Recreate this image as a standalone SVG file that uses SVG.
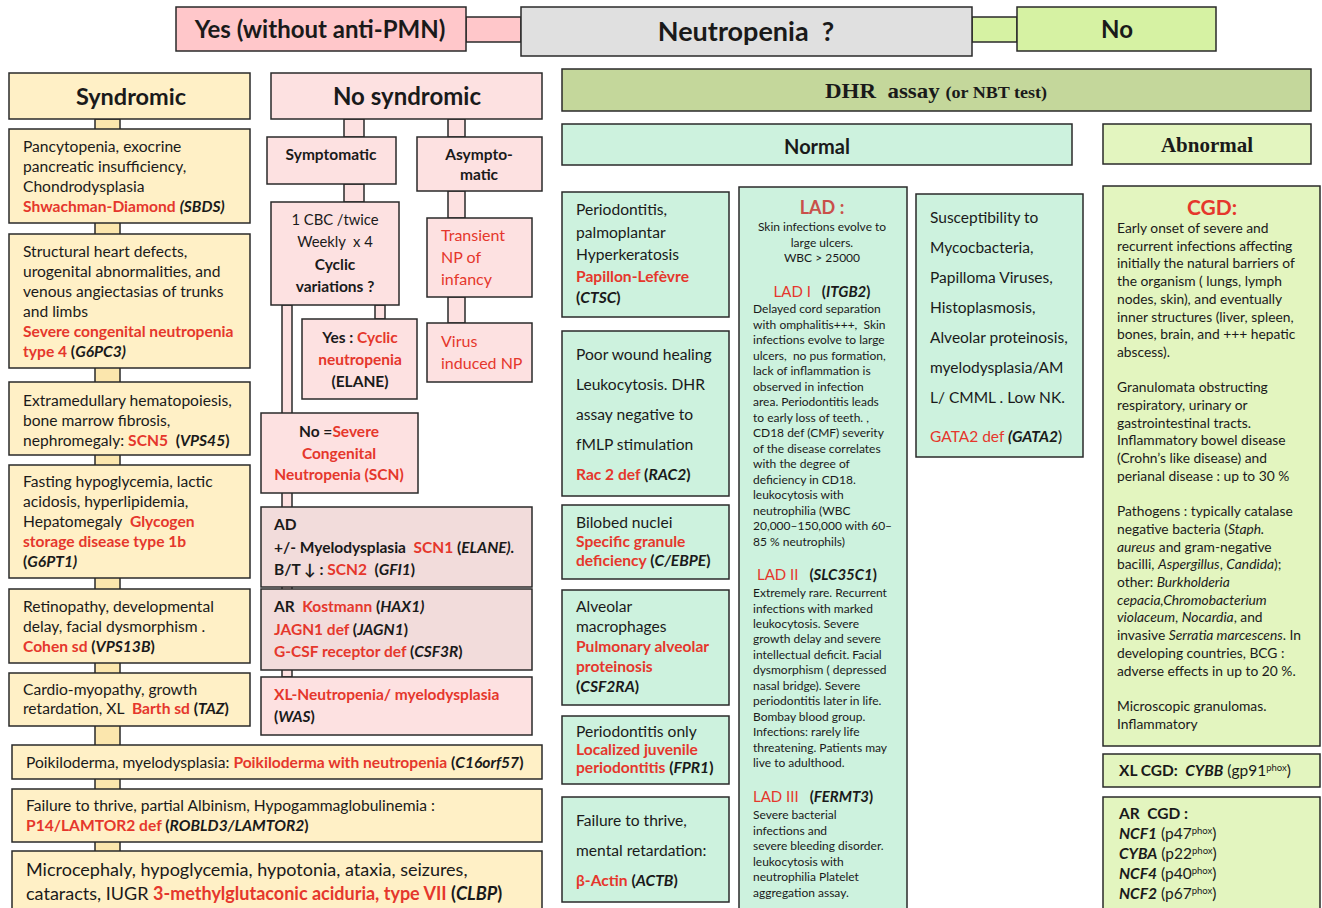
<svg xmlns="http://www.w3.org/2000/svg" width="1322" height="908" viewBox="0 0 1322 908" xml:space="preserve">
<defs>
<style>
.bx{stroke:#2a2a2a;stroke-width:1.5}
.y{fill:#fff0c6}
.ys{fill:#fbe6ad}
.p{fill:#fde1e1}
.pd{fill:#f2dcdb}
.pk{fill:#ffc7ca}
.gr{fill:#e0e0e0}
.no{fill:#d6f2a3}
.g{fill:#cdf2de}
.lg{fill:#e3f5bf}
.dhr{fill:#c4d79b}
text{font-family:Lato,"Liberation Sans",sans-serif;fill:#1a1a1a;font-size:15.6px;white-space:pre}
.sr{font-family:"Liberation Serif",serif;font-weight:bold}
.r{fill:#e5372c}
.b{font-weight:bold}
.i{font-style:italic}
.bi{font-weight:bold;font-style:italic}
.c{text-anchor:middle}
.h22{font-size:24px;font-weight:bold}
.f14{font-size:15.5px}
.f145{font-size:14.8px}
.f15{font-size:15px}
.f17{font-size:18px}
.f11{font-size:12px}
.f12{font-size:13.8px}
.sup{font-size:9.5px}
</style>
</defs>
<rect width="1322" height="908" fill="#ffffff"/>
<g id="connectors">
<rect class="bx pk" x="466" y="17" width="55" height="25"/>
<rect class="bx no" x="972" y="17" width="45" height="25"/>
<rect class="bx ys" x="95" y="119" width="25" height="733"/>
<rect class="bx p" x="344" y="119" width="20" height="18"/>
<rect class="bx p" x="448" y="119" width="17" height="18"/>
<rect class="bx p" x="344" y="184" width="20" height="18"/>
<rect class="bx p" x="282" y="305" width="10" height="372"/>
<rect class="bx p" x="375" y="305" width="10" height="14"/>
<rect class="bx p" x="448" y="191" width="17" height="27"/>
<rect class="bx p" x="448" y="297" width="17" height="26"/>
</g>
<g id="yes"><rect class="bx pk" x="176" y="7" width="290" height="44"/><text class="c h22" x="320" y="38">Yes (without anti-PMN)</text></g>
<g id="neutropenia"><rect class="bx gr" x="521" y="7" width="451" height="49"/><text class="c h22" x="746" y="41" style="font-size:27px">Neutropenia  ?</text></g>
<g id="no"><rect class="bx no" x="1017" y="7" width="199" height="44"/><text class="c h22" x="1117" y="38">No</text></g>
<g id="syndromic"><rect class="bx y" x="9" y="73" width="241" height="46"/><text class="c h22" x="131" y="105" style="font-size:23.5px">Syndromic</text></g>
<g id="s1"><rect class="bx y" x="9" y="129" width="241" height="94"/>
<text x="23" y="152">Pancytopenia, exocrine</text>
<text x="23" y="172">pancreatic insufficiency,</text>
<text x="23" y="192">Chondrodysplasia</text>
<text x="23" y="212"><tspan class="r b">Shwachman-Diamond</tspan> <tspan class="bi">(SBDS)</tspan></text></g>
<g id="s2"><rect class="bx y" x="9" y="234" width="241" height="134"/>
<text x="23" y="257">Structural heart defects,</text>
<text x="23" y="277">urogenital abnormalities, and</text>
<text x="23" y="297">venous angiectasias of trunks</text>
<text x="23" y="317">and limbs</text>
<text x="23" y="337" class="r b">Severe congenital neutropenia</text>
<text x="23" y="357"><tspan class="r b">type 4</tspan><tspan class="b"> (</tspan><tspan class="bi">G6PC3)</tspan></text></g>
<g id="s3"><rect class="bx y" x="9" y="382" width="241" height="73"/>
<text x="23" y="406">Extramedullary hematopoiesis,</text>
<text x="23" y="426">bone marrow fibrosis,</text>
<text x="23" y="446">nephromegaly: <tspan class="r b">SCN5</tspan><tspan class="b">  (</tspan><tspan class="bi">VPS45</tspan><tspan class="b">)</tspan></text></g>
<g id="s4"><rect class="bx y" x="9" y="465" width="241" height="113"/>
<text x="23" y="487">Fasting hypoglycemia, lactic</text>
<text x="23" y="507">acidosis, hyperlipidemia,</text>
<text x="23" y="527">Hepatomegaly  <tspan class="r b">Glycogen</tspan></text>
<text x="23" y="547" class="r b">storage disease type 1b</text>
<text x="23" y="567"><tspan class="b">(</tspan><tspan class="bi">G6PT1)</tspan></text></g>
<g id="s5"><rect class="bx y" x="9" y="589" width="241" height="74"/>
<text x="23" y="612">Retinopathy, developmental</text>
<text x="23" y="632">delay, facial dysmorphism .</text>
<text x="23" y="652"><tspan class="r b">Cohen sd</tspan><tspan class="b"> (</tspan><tspan class="bi">VPS13B</tspan><tspan class="b">)</tspan></text></g>
<g id="s6"><rect class="bx y" x="9" y="673" width="241" height="53"/>
<text x="23" y="695">Cardio-myopathy, growth</text>
<text x="23" y="714">retardation, XL  <tspan class="r b">Barth sd</tspan><tspan class="b"> (</tspan><tspan class="bi">TAZ</tspan><tspan class="b">)</tspan></text></g>
<g id="s7"><rect class="bx y" x="12" y="745" width="530" height="34"/>
<text x="26" y="768">Poikiloderma, myelodysplasia: <tspan class="r b">Poikiloderma with neutropenia</tspan><tspan class="b"> (</tspan><tspan class="bi">C16orf57</tspan><tspan class="b">)</tspan></text></g>
<g id="s8"><rect class="bx y" x="12" y="789" width="530" height="53"/>
<text x="26" y="811">Failure to thrive, partial Albinism, Hypogammaglobulinemia :</text>
<text x="26" y="831"><tspan class="r b">P14/LAMTOR2 def</tspan><tspan class="b"> (</tspan><tspan class="bi">ROBLD3/LAMTOR2</tspan><tspan class="b">)</tspan></text></g>
<g id="s9"><rect class="bx y" x="12" y="851" width="530" height="70"/>
<text x="26" y="876" class="f17">Microcephaly, hypoglycemia, hypotonia, ataxia, seizures,</text>
<text x="26" y="900" class="f17">cataracts, IUGR <tspan class="r b">3-methylglutaconic aciduria, type VII</tspan><tspan class="b"> (</tspan><tspan class="bi">CLBP</tspan><tspan class="b">)</tspan></text></g>
<g id="nosyndromic"><rect class="bx p" x="271" y="73" width="271" height="46"/><text class="c h22" x="407" y="105">No syndromic</text></g>
<g id="symptomatic"><rect class="bx p" x="267" y="137" width="129" height="47"/><text class="c b f14" x="331" y="160">Symptomatic</text></g>
<g id="asymptomatic"><rect class="bx p" x="417" y="137" width="125" height="54"/><text class="c b f14" x="479" y="160">Asympto-</text><text class="c b f14" x="479" y="180">matic</text></g>
<g id="cbc"><rect class="bx p" x="271" y="202" width="128" height="103"/>
<text class="c f145" x="335" y="225">1 CBC /twice</text>
<text class="c f145" x="335" y="247">Weekly  x 4</text>
<text class="c f14 b" x="335" y="270">Cyclic</text>
<text class="c f14 b" x="335" y="292">variations ?</text></g>
<g id="cyclic"><rect class="bx p" x="302" y="319" width="115" height="80"/>
<text class="c f14 b" x="360" y="343">Yes : <tspan class="r">Cyclic</tspan></text>
<text class="c f14 b r" x="360" y="365">neutropenia</text>
<text class="c f14 b" x="360" y="387">(ELANE)</text></g>
<g id="transient"><rect class="bx p" x="427" y="218" width="105" height="79"/>
<text class="r" x="441" y="241" style="font-size:16px">Transient</text>
<text class="r" x="441" y="263" style="font-size:16px">NP of</text>
<text class="r" x="441" y="285" style="font-size:16px">infancy</text></g>
<g id="virus"><rect class="bx p" x="427" y="323" width="105" height="59"/>
<text class="r" x="441" y="347" style="font-size:16px">Virus</text>
<text class="r" x="441" y="369" style="font-size:16px">induced NP</text></g>
<g id="scn"><rect class="bx p" x="261" y="413" width="157" height="80"/>
<text class="c f14 b" x="339" y="437">No =<tspan class="r">Severe</tspan></text>
<text class="c f14 b r" x="339" y="459">Congenital</text>
<text class="c f14 b r" x="339" y="480">Neutropenia (SCN)</text></g>
<g id="ad"><rect class="bx pd" x="261" y="507" width="271" height="80"/>
<text class="f14 b" x="274" y="530">AD</text>
<text class="f14 b" x="274" y="553">+/- Myelodysplasia  <tspan class="r">SCN1</tspan> (<tspan class="i">ELANE).</tspan></text>
<text class="f14 b" x="274" y="575">B/T ↓ : <tspan class="r">SCN2</tspan>  (<tspan class="i">GFI1</tspan>)</text></g>
<g id="ar"><rect class="bx pd" x="261" y="589" width="271" height="81"/>
<text class="f14 b" x="274" y="612">AR  <tspan class="r">Kostmann</tspan> (<tspan class="i">HAX1)</tspan></text>
<text class="f14 b" x="274" y="635"><tspan class="r">JAGN1 def</tspan> (<tspan class="i">JAGN1</tspan>)</text>
<text class="f14 b" x="274" y="657"><tspan class="r">G-CSF receptor def</tspan> (<tspan class="i">CSF3R</tspan>)</text></g>
<g id="xl"><rect class="bx p" x="261" y="677" width="271" height="58"/>
<text class="f14 b r" x="274" y="700">XL-Neutropenia/ myelodysplasia</text>
<text class="f14 b" x="274" y="722">(<tspan class="i">WAS</tspan>)</text></g>
<g id="dhr"><rect class="bx dhr" x="562" y="69" width="749" height="42"/><text class="c sr" x="936" y="98" style="font-size:21px" textLength="222" lengthAdjust="spacingAndGlyphs">DHR  assay <tspan style="font-size:16.5px">(or NBT test)</tspan></text></g>
<g id="normal"><rect class="bx g" x="562" y="124" width="510" height="41"/><text class="c b" x="817" y="154" style="font-size:20px">Normal</text></g>
<g id="abnormal"><rect class="bx lg" x="1103" y="124" width="208" height="40"/><text class="c sr" x="1207" y="152" style="font-size:21px">Abnormal</text></g>
<g id="papillon"><rect class="bx g" x="562" y="192" width="167" height="125"/>
<text x="576" y="215">Periodontitis,</text>
<text x="576" y="238">palmoplantar</text>
<text x="576" y="260">Hyperkeratosis</text>
<text x="576" y="282" class="r b">Papillon-Lefèvre</text>
<text x="576" y="303"><tspan class="b">(</tspan><tspan class="bi">CTSC</tspan><tspan class="b">)</tspan></text></g>
<g id="rac2"><rect class="bx g" x="562" y="331" width="167" height="165"/>
<text x="576" y="360">Poor wound healing</text>
<text x="576" y="390">Leukocytosis. DHR</text>
<text x="576" y="420">assay negative to</text>
<text x="576" y="450">fMLP stimulation</text>
<text x="576" y="480"><tspan class="r b">Rac 2 def</tspan><tspan class="b"> (</tspan><tspan class="bi">RAC2</tspan><tspan class="b">)</tspan></text></g>
<g id="sgd"><rect class="bx g" x="562" y="505" width="167" height="74"/>
<text x="576" y="528">Bilobed nuclei</text>
<text x="576" y="547" class="r b">Specific granule</text>
<text x="576" y="566"><tspan class="r b">deficiency</tspan><tspan class="b"> (</tspan><tspan class="bi">C/EBPE</tspan><tspan class="b">)</tspan></text></g>
<g id="pap"><rect class="bx g" x="562" y="590" width="167" height="115"/>
<text x="576" y="612">Alveolar</text>
<text x="576" y="632">macrophages</text>
<text x="576" y="652" class="r b">Pulmonary alveolar</text>
<text x="576" y="672" class="r b">proteinosis</text>
<text x="576" y="692"><tspan class="b">(</tspan><tspan class="bi">CSF2RA</tspan><tspan class="b">)</tspan></text></g>
<g id="ljp"><rect class="bx g" x="562" y="716" width="167" height="68"/>
<text x="576" y="737">Periodontitis only</text>
<text x="576" y="755" class="r b">Localized juvenile</text>
<text x="576" y="773"><tspan class="r b">periodontitis</tspan><tspan class="b"> (</tspan><tspan class="bi">FPR1</tspan><tspan class="b">)</tspan></text></g>
<g id="actin"><rect class="bx g" x="562" y="797" width="167" height="105"/>
<text x="576" y="826">Failure to thrive,</text>
<text x="576" y="856">mental retardation:</text>
<text x="576" y="886"><tspan class="r b">β-Actin</tspan><tspan class="b"> (</tspan><tspan class="bi">ACTB</tspan><tspan class="b">)</tspan></text></g>
<g id="lad"><rect class="bx g" x="739" y="187" width="168" height="735"/>
<text class="c b" x="822" y="214" style="font-size:18px;fill:#c9504a">LAD :</text>
<text class="c f11" x="822" y="231">Skin infections evolve to</text>
<text class="c f11" x="822" y="247">large ulcers.</text>
<text class="c f11" x="822" y="262">WBC &gt; 25000</text>
<text class="c f15" x="822" y="297"><tspan class="r">LAD I</tspan><tspan class="b">   (</tspan><tspan class="bi">ITGB2</tspan><tspan class="b">)</tspan></text>
<text class="f11" x="753" y="313">Delayed cord separation</text>
<text class="f11" x="753" y="328.5">with omphalitis+++,  Skin</text>
<text class="f11" x="753" y="344">infections evolve to large</text>
<text class="f11" x="753" y="359.6">ulcers,  no pus formation,</text>
<text class="f11" x="753" y="375.1">lack of inflammation is</text>
<text class="f11" x="753" y="390.7">observed in infection</text>
<text class="f11" x="753" y="406.2">area. Periodontitis leads</text>
<text class="f11" x="753" y="421.7">to early loss of teeth. ,</text>
<text class="f11" x="753" y="437.2">CD18 def (CMF) severity</text>
<text class="f11" x="753" y="452.8">of the disease correlates</text>
<text class="f11" x="753" y="468.3">with the degree of</text>
<text class="f11" x="753" y="483.8">deficiency in CD18.</text>
<text class="f11" x="753" y="499.4">leukocytosis with</text>
<text class="f11" x="753" y="514.9">neutrophilia (WBC</text>
<text class="f11" x="753" y="530.4">20,000–150,000 with 60–</text>
<text class="f11" x="753" y="546">85 % neutrophils)</text>
<text class="f15" x="757" y="580"><tspan class="r">LAD II</tspan><tspan class="b">   (</tspan><tspan class="bi">SLC35C1</tspan><tspan class="b">)</tspan></text>
<text class="f11" x="753" y="597">Extremely rare. Recurrent</text>
<text class="f11" x="753" y="612.5">infections with marked</text>
<text class="f11" x="753" y="628">leukocytosis. Severe</text>
<text class="f11" x="753" y="643.4">growth delay and severe</text>
<text class="f11" x="753" y="658.8">intellectual deficit. Facial</text>
<text class="f11" x="753" y="674.3">dysmorphism ( depressed</text>
<text class="f11" x="753" y="689.7">nasal bridge). Severe</text>
<text class="f11" x="753" y="705.2">periodontitis later in life.</text>
<text class="f11" x="753" y="720.6">Bombay blood group.</text>
<text class="f11" x="753" y="736">Infections: rarely life</text>
<text class="f11" x="753" y="751.5">threatening. Patients may</text>
<text class="f11" x="753" y="767">live to adulthood.</text>
<text class="f15" x="753" y="802"><tspan class="r">LAD III</tspan><tspan class="b">   (</tspan><tspan class="bi">FERMT3</tspan><tspan class="b">)</tspan></text>
<text class="f11" x="753" y="819">Severe bacterial</text>
<text class="f11" x="753" y="834.6">infections and</text>
<text class="f11" x="753" y="850.2">severe bleeding disorder.</text>
<text class="f11" x="753" y="865.8">leukocytosis with</text>
<text class="f11" x="753" y="881.4">neutrophilia Platelet</text>
<text class="f11" x="753" y="897">aggregation assay.</text></g>
<g id="gata2"><rect class="bx g" x="916" y="194" width="167" height="263"/>
<text class="f14" x="930" y="223">Susceptibility to</text>
<text class="f14" x="930" y="253">Mycocbacteria,</text>
<text class="f14" x="930" y="283">Papilloma Viruses,</text>
<text class="f14" x="930" y="313">Histoplasmosis,</text>
<text class="f14" x="930" y="343">Alveolar proteinosis,</text>
<text class="f14" x="930" y="373">myelodysplasia/AM</text>
<text class="f14" x="930" y="403">L/ CMML . Low NK.</text>
<text class="f14" x="930" y="442"><tspan class="r">GATA2 def </tspan><tspan class="bi">(GATA2</tspan>)</text></g>
<g id="cgd"><rect class="bx lg" x="1103" y="186" width="217" height="560"/>
<text class="c b r" x="1212" y="215" style="font-size:21px">CGD:</text>
<text class="f12" x="1117" y="233">Early onset of severe and</text>
<text class="f12" x="1117" y="250.7">recurrent infections affecting</text>
<text class="f12" x="1117" y="268.4">initially the natural barriers of</text>
<text class="f12" x="1117" y="286.1">the organism ( lungs, lymph</text>
<text class="f12" x="1117" y="303.8">nodes, skin), and eventually</text>
<text class="f12" x="1117" y="321.5">inner structures (liver, spleen,</text>
<text class="f12" x="1117" y="339.2">bones, brain, and +++ hepatic</text>
<text class="f12" x="1117" y="356.9">abscess).</text>
<text class="f12" x="1117" y="392.3">Granulomata obstructing</text>
<text class="f12" x="1117" y="410">respiratory, urinary or</text>
<text class="f12" x="1117" y="427.7">gastrointestinal tracts.</text>
<text class="f12" x="1117" y="445.4">Inflammatory bowel disease</text>
<text class="f12" x="1117" y="463.1">(Crohn’s like disease) and</text>
<text class="f12" x="1117" y="480.8">perianal disease : up to 30 %</text>
<text class="f12" x="1117" y="516.2">Pathogens : typically catalase</text>
<text class="f12" x="1117" y="533.9">negative bacteria (<tspan class="i">Staph.</tspan></text>
<text class="f12" x="1117" y="551.6"><tspan class="i">aureus</tspan> and gram-negative</text>
<text class="f12" x="1117" y="569.3">bacilli, <tspan class="i">Aspergillus</tspan>, <tspan class="i">Candida</tspan>);</text>
<text class="f12" x="1117" y="587">other: <tspan class="i">Burkholderia</tspan></text>
<text class="f12" x="1117" y="604.7"><tspan class="i">cepacia,Chromobacterium</tspan></text>
<text class="f12" x="1117" y="622.4"><tspan class="i">violaceum</tspan>, <tspan class="i">Nocardia</tspan>, and</text>
<text class="f12" x="1117" y="640.1">invasive <tspan class="i">Serratia marcescens</tspan>. In</text>
<text class="f12" x="1117" y="657.8">developing countries, BCG :</text>
<text class="f12" x="1117" y="675.5">adverse effects in up to 20 %.</text>
<text class="f12" x="1117" y="710.9">Microscopic granulomas.</text>
<text class="f12" x="1117" y="728.6">Inflammatory</text></g>
<g id="xlcgd"><rect class="bx lg" x="1103" y="754" width="217" height="33"/>
<text class="f14" x="1119" y="776"><tspan class="b">XL CGD:  </tspan><tspan class="bi">CYBB</tspan> (gp91<tspan class="sup" dy="-5">phox</tspan><tspan dy="5">)</tspan></text></g>
<g id="arcgd"><rect class="bx lg" x="1103" y="797" width="217" height="125"/>
<text class="f14 b" x="1119" y="819">AR  CGD :</text>
<text class="f14" x="1119" y="839"><tspan class="bi">NCF1</tspan> (p47<tspan class="sup" dy="-5">phox</tspan><tspan dy="5">)</tspan></text>
<text class="f14" x="1119" y="859"><tspan class="bi">CYBA</tspan> (p22<tspan class="sup" dy="-5">phox</tspan><tspan dy="5">)</tspan></text>
<text class="f14" x="1119" y="879"><tspan class="bi">NCF4</tspan> (p40<tspan class="sup" dy="-5">phox</tspan><tspan dy="5">)</tspan></text>
<text class="f14" x="1119" y="899"><tspan class="bi">NCF2</tspan> (p67<tspan class="sup" dy="-5">phox</tspan><tspan dy="5">)</tspan></text></g>
</svg>
